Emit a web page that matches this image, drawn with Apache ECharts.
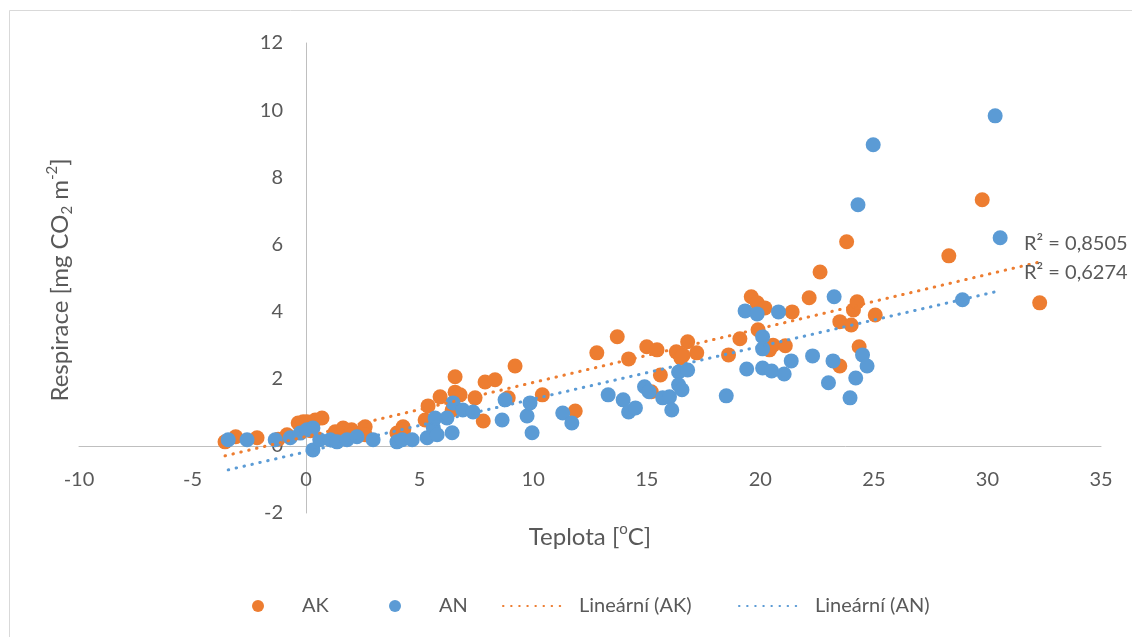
<!DOCTYPE html>
<html>
<head>
<meta charset="utf-8">
<script src="https://cdn.jsdelivr.net/npm/echarts@6/dist/echarts.min.js"></script>
<style>
html,body{margin:0;padding:0;background:#fff;}
#chart{width:1132px;height:637px;}
</style>
</head>
<body>
<div id="chart"></div>
<script>
// ---- data ----
const akData = [
  [-3.57,0.12],[-3.1,0.27],[-2.16,0.24],[-1.23,0.2],[-0.84,0.33],[-0.35,0.68],[-0.13,0.72],
  [0.04,0.72],[0.4,0.77],[0.7,0.83],[0.2,0.45],[1.28,0.42],[1.63,0.53],[2.0,0.48],[2.07,0.35],
  [2.6,0.57],[2.6,0.33],[4.0,0.38],[4.27,0.57],[4.3,0.48],
  [5.24,0.77],[5.37,1.19],[5.9,1.46],[6.43,1.07],[6.56,2.06],[6.56,1.6],[6.78,1.52],[7.44,1.43],
  [7.8,0.74],[7.88,1.9],[8.32,1.97],[8.9,1.43],[9.2,2.38],[10.4,1.52],[11.85,1.04],
  [12.8,2.77],[13.7,3.25],[14.2,2.59],[15.0,2.95],[15.45,2.86],[15.6,2.11],[15.2,1.61],
  [16.3,2.8],[16.5,2.62],[16.8,3.1],[17.2,2.77],[16.6,2.7],[18.6,2.71],[19.1,3.19],
  [19.6,4.44],[19.86,4.26],[20.2,4.11],[19.9,3.46],[20.4,2.86],[20.56,3.0],[21.1,2.98],
  [21.4,3.99],[22.15,4.41],[22.63,5.18],[23.5,3.7],[23.5,2.38],[23.8,6.08],[24.0,3.6],
  [24.1,4.05],[24.26,4.29],[24.35,2.95],[25.06,3.9],[28.3,5.66],[29.77,7.33],[32.3,4.26]
];
const anData = [
  [-3.43,0.18],[-2.6,0.18],[-1.36,0.18],[-0.7,0.24],[-0.26,0.38],[0.04,0.48],[0.3,0.53],
  [0.3,-0.12],[0.6,0.18],[1.06,0.18],[1.36,0.12],[1.8,0.18],[2.24,0.27],[2.95,0.18],
  [4.0,0.12],[4.23,0.18],[4.67,0.18],[5.33,0.24],[5.6,0.54],[5.68,0.83],[5.77,0.33],
  [6.2,0.83],[6.43,0.39],[6.47,1.28],[6.9,1.07],[7.35,1.01],[8.63,0.77],[8.76,1.37],
  [9.73,0.89],[9.86,1.28],[9.95,0.39],[11.3,0.98],[11.7,0.68],[13.3,1.52],[13.96,1.37],
  [14.2,1.01],[14.5,1.13],[14.9,1.76],[15.1,1.61],[15.7,1.43],[16.0,1.46],[16.1,1.07],
  [16.4,2.2],[16.8,2.26],[16.4,1.82],[16.55,1.67],[18.5,1.49],[19.33,4.02],[19.86,3.93],
  [20.8,3.99],[20.1,3.25],[20.1,2.89],[19.4,2.29],[20.1,2.32],[20.5,2.23],[21.05,2.14],
  [21.36,2.53],[22.3,2.68],[23.2,2.53],[23.0,1.88],[23.25,4.44],[23.95,1.43],[24.2,2.02],
  [24.5,2.71],[24.7,2.38],[24.3,7.18],[24.97,8.97],[28.9,4.35],[30.34,9.83],[30.56,6.2]
];
// trendline coefficients [slope, intercept] and x range
const akTrendCoef = [0.161, 0.278];
const akTrendRange = [-3.57, 32.3];
const anTrendCoef = [0.157, -0.176];
const anTrendRange = [-3.43, 30.56];
const r2Labels = ['R\u00b2 = 0,8505', 'R\u00b2 = 0,6274'];
const seriesNames = ['AK', 'AN', 'Lineární (AK)', 'Lineární (AN)'];
const xTicks = { min: -10, max: 35, interval: 5 };
const yTicks = { min: -2, max: 12, interval: 2 };

const trend = (c, r) => r.map(x => [x, c[0] * x + c[1]]);

const FONT = 'Lato';
const GREY = '#595959';
const ORANGE = '#ED7D31';
const BLUE = '#5B9BD5';

const chart = echarts.init(document.getElementById('chart'), null, { renderer: 'canvas' });
const dotted = (color) => ({ color: color, width: 3, type: [0.5, 7.6], cap: 'round' });

const legendText = (padLeft) => ({ color: GREY, fontSize: 20, fontFamily: FONT, padding: [0, 0, 0, padLeft] });
const mkLegend = (name, left, width, padLeft, extra) => Object.assign({
  left: left, top: 596, padding: 0, itemWidth: width, itemHeight: 12, itemGap: 0,
  selectedMode: false, textStyle: legendText(padLeft), data: [Object.assign({ name: name }, extra || {})]
});

chart.setOption({
  animation: false,
  backgroundColor: '#fff',
  textStyle: { fontFamily: FONT },
  grid: { left: 79, right: 31, top: 43, bottom: 124, containLabel: false },
  xAxis: {
    type: 'value', min: xTicks.min, max: xTicks.max, interval: xTicks.interval,
    axisLine: { onZero: true, lineStyle: { color: '#BFBFBF', width: 1 } },
    axisTick: { show: false },
    splitLine: { show: false },
    axisLabel: { color: GREY, fontSize: 20, fontFamily: FONT, margin: -43, showMinLabel: true, showMaxLabel: true }
  },
  yAxis: {
    type: 'value', min: yTicks.min, max: yTicks.max, interval: yTicks.interval,
    axisLine: { show: true, onZero: true, lineStyle: { color: '#BFBFBF', width: 1 } },
    axisTick: { show: false },
    splitLine: { show: false },
    axisLabel: { color: GREY, fontSize: 20, fontFamily: FONT, margin: -204 }
  },
  legend: [
    mkLegend(seriesNames[0], 252, 78, 0, { icon: 'circle' }),
    mkLegend(seriesNames[1], 389, 78, 0, { icon: 'circle' }),
    mkLegend(seriesNames[2], 502, 64, 7, { itemStyle: { opacity: 0 } }),
    mkLegend(seriesNames[3], 738, 64, 7, { itemStyle: { opacity: 0 } })
  ],
  series: [
    { name: seriesNames[0], type: 'scatter', data: akData, symbol: 'circle', symbolSize: 15,
      itemStyle: { color: ORANGE, opacity: 1 }, z: 2 },
    { name: seriesNames[1], type: 'scatter', data: anData, symbol: 'circle', symbolSize: 15,
      itemStyle: { color: BLUE, opacity: 1 }, z: 3 },
    { name: seriesNames[2], type: 'line', data: trend(akTrendCoef, akTrendRange), symbol: 'none',
      lineStyle: dotted(ORANGE), itemStyle: { color: ORANGE }, z: 4 },
    { name: seriesNames[3], type: 'line', data: trend(anTrendCoef, anTrendRange), symbol: 'none',
      lineStyle: dotted(BLUE), itemStyle: { color: BLUE }, z: 5 }
  ],
  graphic: [
    { type: 'rect', shape: { x: 9.5, y: 10.5, width: 1300, height: 800 },
      style: { fill: 'none', stroke: '#D9D9D9', lineWidth: 1 }, silent: true, z: -10 },
    { type: 'text', x: 60, y: 280, rotation: Math.PI / 2, z: 10,
      style: { text: 'Respirace [mg CO{sub|2} m{sup|-2}]', fill: GREY, font: '24px ' + FONT,
        align: 'center', verticalAlign: 'middle',
        rich: { sub: { fontSize: 15, fontFamily: FONT, fill: GREY, verticalAlign: 'bottom', lineHeight: 30 },
                sup: { fontSize: 15, fontFamily: FONT, fill: GREY, verticalAlign: 'top', lineHeight: 30 } } } },
    { type: 'text', x: 590, y: 537, z: 10,
      style: { text: 'Teplota [{sup|o}C]', fill: GREY, font: '24px ' + FONT,
        align: 'center', verticalAlign: 'middle',
        rich: { sup: { fontSize: 15, fontFamily: FONT, fill: GREY, verticalAlign: 'top', lineHeight: 30 } } } },
    { type: 'text', x: 1024, y: 244, z: 10,
      style: { text: r2Labels[0], fill: GREY, font: '20px ' + FONT, align: 'left', verticalAlign: 'middle' } },
    { type: 'text', x: 1024, y: 273, z: 10,
      style: { text: r2Labels[1], fill: GREY, font: '20px ' + FONT, align: 'left', verticalAlign: 'middle' } }
  ]
});
</script>
</body>
</html>
